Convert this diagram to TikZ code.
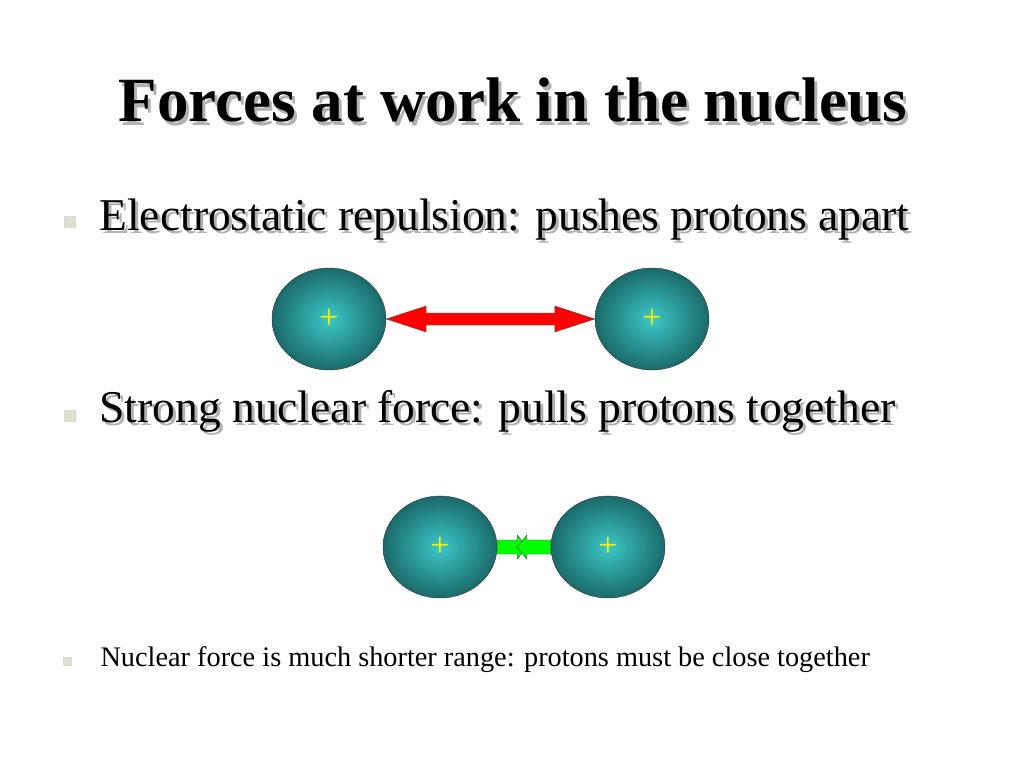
\documentclass[tikz,border=0pt]{standalone}
\usepackage{fontspec}
\setmainfont{Liberation Serif}
\usetikzlibrary{calc,shapes.geometric}

\definecolor{tealdark}{HTML}{1B6A6A}
\definecolor{teallight}{HTML}{3CC8C8}
\definecolor{bulletgray}{HTML}{E0E0D0}

\tikzset{
	proton/.style={ellipse,draw=black!80,thin,minimum width=114pt,minimum height=102pt,
		inner color=teallight,outer color=tealdark,text=yellow,font=\fontsize{34}{34}\selectfont},
	bulletbox/.style={fill=bulletgray,draw=black!15,minimum size=#1,inner sep=0pt},
}

\begin{document}
\begin{tikzpicture}[x=1pt,y=-1pt]
	\useasboundingbox[fill=white] (0,0) rectangle (1024,768);

	% title
	\node[text=black!30] at (516,104) {\fontsize{63}{63}\bfseries\selectfont Forces at work in the nucleus};
	\node (title) at (513,100) {\fontsize{63}{63}\bfseries\selectfont Forces at work in the nucleus};

	% bullets
	\node[bulletbox=11pt] (b1) at (70,222) {};
	\node[anchor=base west,text=black!30] at (99,233) {\fontsize{45.5}{45.5}\selectfont Electrostatic repulsion: pushes protons apart};
	\node[anchor=base west] (t1) at (96,230) {\fontsize{45.5}{45.5}\selectfont Electrostatic repulsion: pushes protons apart};

	\node[bulletbox=11pt] (b2) at (70,416) {};
	\node[anchor=base west,text=black!30] at (99,425) {\fontsize{45.5}{45.5}\selectfont Strong nuclear force: pulls protons together};
	\node[anchor=base west] (t2) at (96,422) {\fontsize{45.5}{45.5}\selectfont Strong nuclear force: pulls protons together};

	\node[bulletbox=8pt] (b3) at (67,661) {};
	\node[anchor=base west] (t3) at (97,666) {\fontsize{28.3}{28.3}\selectfont Nuclear force is much shorter range: protons must be close together};

	% protons
	\node[proton] (p1) at (329,319) {+};
	\node[proton] (p2) at (652,319) {+};
	\node[proton] (p3) at (440,547) {+};
	\node[proton] (p4) at (608,547) {+};

	% repulsion
	\draw[fill=red,draw=black!70] (p1.east) -- ++(40,-13) -- ++(0,7) -- ($(p2.west)+(-40,-6)$)
		-- ++(0,-7) -- (p2.west) -- ++(-40,13) -- ++(0,-7) -- ($(p1.east)+(40,6)$) -- ++(0,7) -- cycle;

	% attraction
	\draw[fill=green,draw=black!70] (p3.east) ++(0,-7) -- ++(20,0) -- ++(0,-5) -- ++(10,12)
		-- ++(-10,12) -- ++(0,-5) -- ++(-20,0) -- cycle;
	\draw[fill=green,draw=black!70] (p4.west) ++(0,-7) -- ++(-24,0) -- ++(0,-5) -- ++(-10,12)
		-- ++(10,12) -- ++(0,-5) -- ++(24,0) -- cycle;
\end{tikzpicture}
\end{document}
